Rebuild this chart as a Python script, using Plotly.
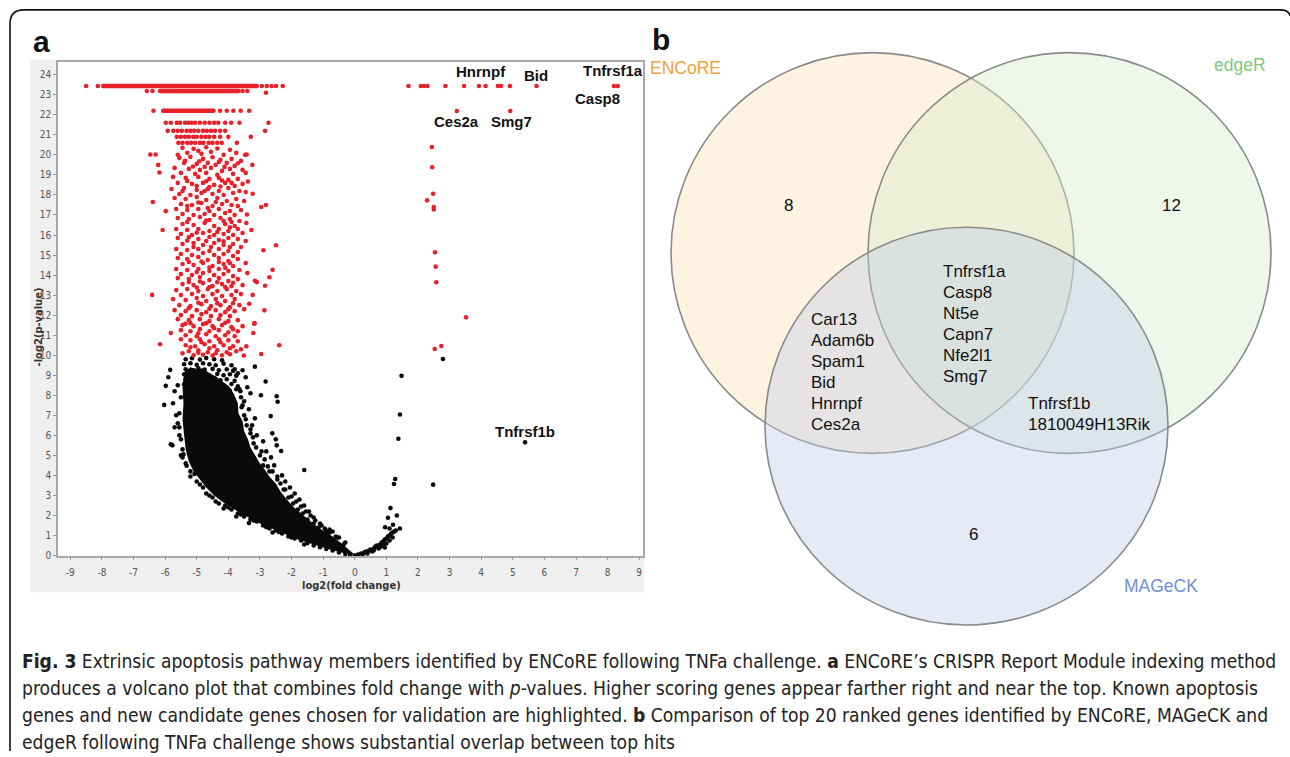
import plotly.graph_objects as go

W, H = 1290, 757

# ---------------- data: volcano plot (panel a) ----------------
x_ticks = list(range(-9, 10))
y_ticks = list(range(0, 25))

# dense rows of significant guides drawn as continuous runs (y, x_start, x_end)
red_run_y = [23.44, 23.19, 22.2]
red_run_x0 = [-7.96, -6.16, -6.06]
red_run_x1 = [-3.10, -3.68, -4.47]

red_points = [
    (-8.5, 23.44), (-8.13, 23.44), (-2.94, 23.44), (-2.78, 23.44), (-2.63, 23.44), (-2.49, 23.44), (-2.28, 23.44),
    (1.70, 23.44), (2.09, 23.44), (2.19, 23.44), (2.30, 23.44), (2.87, 23.44), (3.46, 23.44), (3.93, 23.44),
    (4.14, 23.44), (4.53, 23.44), (4.63, 23.44), (4.91, 23.44), (5.75, 23.44), (8.20, 23.44), (8.32, 23.44),
    (-6.58, 23.19), (-6.40, 23.19), (-3.55, 23.19), (-3.40, 23.19), (-2.81, 23.1),
    (-6.37, 22.2), (-4.26, 22.2), (-4.05, 22.2), (-3.84, 22.2), (-3.61, 22.2), (-3.34, 22.2), (3.23, 22.19), (4.92, 22.19),
    (-5.98, 21.6), (-5.82, 21.6), (-5.63, 21.6), (-5.53, 21.6), (-5.37, 21.6), (-5.26, 21.6), (-5.16, 21.6),
    (-5.05, 21.6), (-4.9, 21.6), (-4.75, 21.6), (-4.6, 21.6), (-4.45, 21.6), (-4.32, 21.6), (-4.1, 21.6),
    (-3.91, 21.6), (-3.65, 21.6), (-2.73, 21.6),
    (-5.92, 21.2), (-5.74, 21.2), (-5.6, 21.2), (-5.47, 21.2), (-5.32, 21.2), (-5.2, 21.2), (-5.08, 21.2),
    (-4.95, 21.2), (-4.8, 21.2), (-4.68, 21.2), (-4.55, 21.2), (-4.42, 21.2), (-4.26, 21.2), (-4.1, 21.2), (-2.84, 21.2),
    (-5.63, 20.9), (-5.5, 20.9), (-5.37, 20.9), (-5.25, 20.9), (-5.11, 20.9), (-5.0, 20.9), (-4.85, 20.9),
    (-4.72, 20.9), (-4.6, 20.9), (-4.45, 20.9), (-4.26, 20.9), (-4.0, 20.9), (-3.29, 20.9),
    (-5.58, 20.6), (-5.45, 20.6), (-5.3, 20.6), (-5.18, 20.6), (-5.05, 20.6), (-4.9, 20.6), (-4.79, 20.6),
    (-4.62, 20.6), (-4.5, 20.6), (-4.35, 20.6), (-4.21, 20.6), (-3.73, 20.6),
    (-5.45, 20.35), (-5.1, 20.3), (-4.7, 20.38), (-4.35, 20.32), (-3.95, 20.25), (-5.3, 20.1), (-4.85, 20.05),
    (-4.55, 20.15), (-4.15, 20.0), (-3.75, 20.1), (-3.47, 20.0), (-3.42, 20.02), (-6.47, 20.02), (-6.3, 20.02),
    (-5.6, 20.0), (-4.95, 20.2),
    (-5.55, 19.85), (-5.2, 19.9), (-4.8, 19.8), (-4.5, 19.88), (-4.25, 19.75), (-3.9, 19.8), (-3.6, 19.7),
    (-5.4, 19.6), (-5.0, 19.55), (-4.65, 19.6), (-4.4, 19.5), (-4.05, 19.6), (-3.8, 19.45), (-6.22, 19.5),
    (-3.24, 19.5), (-5.7, 19.35), (-5.25, 19.3), (-4.9, 19.25), (-4.55, 19.35), (-4.2, 19.2), (-3.95, 19.3),
    (-3.55, 19.25), (-6.18, 19.12), (-5.5, 19.1), (-5.05, 19.05), (-4.7, 19.1), (-4.35, 19.0), (-3.85, 19.05),
    (-5.75, 18.9), (-5.35, 18.85), (-4.95, 18.9), (-4.6, 18.8), (-4.3, 18.85), (-4.0, 18.75), (-3.7, 18.8),
    (-3.38, 18.67), (-5.6, 18.6), (-5.15, 18.55), (-4.8, 18.6), (-4.45, 18.5), (-4.1, 18.6), (-3.8, 18.45),
    (-3.55, 18.55), (-5.8, 18.3), (-5.4, 18.35), (-5.0, 18.25), (-4.65, 18.3), (-4.3, 18.2), (-4.0, 18.35),
    (-3.65, 18.2), (-3.23, 18.06), (-5.55, 18.05), (-5.2, 18.0), (-4.85, 18.1), (-4.5, 18.05), (-4.15, 18.0),
    (-3.85, 18.1), (-3.45, 18.15),
    (-5.7, 17.85), (-5.35, 17.8), (-5.0, 17.9), (-4.7, 17.75), (-4.35, 17.85), (-4.05, 17.7), (-3.75, 17.8),
    (-3.5, 17.7), (-6.39, 17.65), (-5.5, 17.55), (-5.15, 17.5), (-4.85, 17.6), (-4.5, 17.45), (-4.2, 17.55),
    (-3.9, 17.5), (-2.96, 17.4), (-2.81, 17.5), (-5.98, 17.19), (-5.65, 17.3), (-5.3, 17.25), (-4.95, 17.3),
    (-4.6, 17.2), (-4.3, 17.3), (-3.95, 17.2), (-3.6, 17.25), (-3.41, 17.02), (-5.45, 17.05), (-5.1, 17.0),
    (-4.75, 17.05), (-4.45, 17.0), (-4.1, 17.1), (-3.8, 17.0),
    (-5.6, 16.85), (-5.25, 16.8), (-4.9, 16.9), (-4.6, 16.75), (-4.25, 16.85), (-3.95, 16.8), (-3.65, 16.7),
    (-3.43, 16.6), (-5.45, 16.55), (-5.1, 16.5), (-4.75, 16.6), (-4.45, 16.45), (-4.1, 16.55), (-3.8, 16.45),
    (-5.65, 16.3), (-6.08, 16.25), (-3.27, 16.25), (-5.3, 16.25), (-4.95, 16.3), (-4.6, 16.2), (-4.3, 16.3),
    (-4.0, 16.2), (-3.7, 16.3), (-5.5, 16.05), (-5.15, 16.0), (-4.8, 16.1), (-4.45, 16.0), (-4.15, 16.05),
    (-3.85, 16.0), (-3.55, 16.1),
    (-5.6, 15.85), (-5.25, 15.9), (-4.95, 15.8), (-4.6, 15.9), (-4.3, 15.75), (-4.0, 15.85), (-3.7, 15.8),
    (-3.45, 15.7), (-5.45, 15.55), (-5.1, 15.6), (-4.8, 15.5), (-4.45, 15.6), (-4.15, 15.5), (-3.85, 15.55),
    (-2.49, 15.49), (-3.6, 15.4), (-5.65, 15.3), (-5.3, 15.25), (-4.95, 15.3), (-4.6, 15.2), (-4.3, 15.3),
    (-4.0, 15.2), (-3.7, 15.15), (-2.89, 15.24), (-5.5, 15.05), (-5.15, 15.0), (-4.8, 15.1), (-4.45, 15.0),
    (-4.15, 15.05), (-3.85, 14.95),
    (-5.6, 14.85), (-5.3, 14.8), (-4.95, 14.9), (-4.65, 14.75), (-4.3, 14.85), (-4.0, 14.7), (-3.7, 14.8),
    (-3.45, 14.6), (-5.45, 14.55), (-5.1, 14.5), (-4.8, 14.6), (-4.5, 14.45), (-4.15, 14.55), (-3.85, 14.45),
    (-2.6, 14.26), (-5.65, 14.3), (-5.3, 14.25), (-4.95, 14.3), (-4.6, 14.2), (-4.3, 14.3), (-4.0, 14.2),
    (-3.65, 14.25), (-3.4, 14.1), (-5.5, 14.05), (-5.15, 14.0), (-4.8, 14.1), (-4.45, 14.0), (-4.15, 14.05),
    (-3.85, 13.95),
    (-2.7, 13.89), (-5.6, 13.85), (-5.25, 13.8), (-4.9, 13.9), (-4.6, 13.75), (-4.3, 13.85), (-4.0, 13.7),
    (-3.7, 13.8), (-3.16, 13.72), (-3.1, 13.65), (-5.45, 13.55), (-5.1, 13.5), (-4.8, 13.6), (-4.5, 13.45),
    (-4.2, 13.55), (-3.9, 13.45), (-3.55, 13.5), (-2.84, 13.47), (-5.65, 13.25), (-5.3, 13.3), (-4.95, 13.2),
    (-4.65, 13.3), (-4.35, 13.2), (-4.05, 13.3), (-3.75, 13.2), (-6.41, 13.01), (-3.23, 13.01), (-5.5, 13.0),
    (-5.15, 13.05), (-4.8, 12.95), (-4.5, 13.05), (-4.2, 12.95), (-3.9, 13.0), (-3.6, 13.05),
    (-5.75, 12.8), (-5.35, 12.75), (-5.0, 12.85), (-4.7, 12.7), (-4.4, 12.8), (-4.1, 12.7), (-3.8, 12.8),
    (-3.34, 12.57), (-5.55, 12.5), (-5.2, 12.45), (-4.85, 12.55), (-4.55, 12.45), (-4.25, 12.5), (-3.95, 12.4),
    (-3.65, 12.5), (-2.86, 12.24), (-5.7, 12.25), (-5.35, 12.2), (-5.0, 12.25), (-4.7, 12.15), (-4.4, 12.25),
    (-4.1, 12.15), (-3.8, 12.2), (-3.5, 12.3), (-5.5, 12.0), (-5.15, 11.95), (-4.85, 12.05), (-4.55, 11.95),
    (-4.25, 12.0), (-3.95, 11.95), (3.52, 11.89),
    (-5.36, 11.57), (-3.18, 11.57), (-3.17, 11.6), (-5.6, 11.8), (-5.25, 11.75), (-4.9, 11.8), (-4.6, 11.7),
    (-4.3, 11.8), (-4.0, 11.7), (-3.7, 11.75), (-5.45, 11.5), (-5.1, 11.45), (-4.8, 11.55), (-4.5, 11.45),
    (-4.2, 11.5), (-3.9, 11.4), (-3.55, 11.45), (-5.82, 11.11), (-3.21, 11.11), (-5.5, 11.25), (-5.2, 11.2),
    (-4.9, 11.3), (-4.6, 11.2), (-4.3, 11.25), (-4.0, 11.15), (-3.7, 11.2), (-5.35, 11.0), (-5.0, 10.95),
    (-4.7, 11.05), (-4.4, 10.95), (-4.1, 11.0), (-3.8, 10.95),
    (-6.16, 10.55), (-2.39, 10.5), (-3.43, 10.45), (-5.5, 10.8), (-5.2, 10.75), (-4.9, 10.8), (-4.6, 10.7),
    (-4.3, 10.8), (-4.0, 10.75), (-3.7, 10.7), (-5.35, 10.5), (-5.05, 10.45), (-4.75, 10.55), (-4.45, 10.45),
    (-4.15, 10.5), (-3.85, 10.45), (-5.25, 10.2), (-4.95, 10.25), (-4.65, 10.15), (-4.35, 10.25), (-4.05, 10.15),
    (-3.75, 10.2), (-2.96, 10.06), (-3.51, 9.98), (-5.1, 10.0), (-4.8, 10.02), (-4.5, 9.98), (-4.2, 10.0),
    (-3.95, 10.05),
    (-5.37, 19.7), (-4.92, 19.68), (-4.3, 19.65), (-3.7, 19.58), (-5.12, 19.42), (-4.75, 19.4), (-4.12, 19.4),
    (-3.45, 19.1), (-5.3, 18.7), (-4.7, 18.68), (-4.2, 18.72), (-3.9, 18.6), (-5.0, 18.45), (-4.6, 18.4),
    (-4.25, 18.42), (-5.45, 18.2), (-4.75, 18.2), (-4.4, 17.65), (-4.95, 17.62), (-5.3, 17.45), (-3.7, 17.45),
    (-4.65, 17.35), (-4.15, 16.7), (-4.7, 16.72), (-5.3, 16.65), (-3.9, 16.65), (-4.35, 16.15), (-5.0, 16.12),
    (-3.95, 16.38), (-4.7, 15.7), (-4.15, 15.68), (-5.3, 15.72), (-3.95, 15.4), (-4.55, 15.4), (-5.1, 15.4),
    (-4.3, 14.65), (-4.85, 14.68), (-3.95, 14.6), (-5.25, 14.65), (-4.6, 14.38), (-4.1, 14.36), (-5.0, 14.15),
    (-4.35, 13.65), (-4.9, 13.68), (-3.85, 13.62), (-5.25, 13.65), (-4.6, 13.4), (-4.1, 13.4), (-5.0, 13.38),
    (-4.35, 12.6), (-4.95, 12.62), (-3.85, 12.6), (-5.25, 12.35), (-4.6, 12.32), (-4.0, 12.3), (-4.7, 11.6),
    (-4.1, 11.62), (-5.2, 11.6), (-3.85, 11.3), (-4.45, 11.35), (-4.95, 11.1), (-4.25, 10.65), (-4.85, 10.65),
    (-3.95, 10.35), (-4.6, 10.35), (-5.2, 10.4), (-4.4, 10.1), (-3.6, 10.3), (-5.45, 10.1), (-4.95, 10.12),
    (2.44, 20.39), (2.45, 19.38), (2.48, 18.06), (2.29, 17.73), (2.50, 17.40), (2.50, 17.27), (2.54, 15.14),
    (2.56, 14.42), (2.58, 13.64), (2.53, 10.31), (2.74, 10.46),
]

# saturated (fully overlapping) core of the non-significant cloud, outline
black_core = [
    (-5.4, 9.15), (-5.2, 9.4), (-5.0, 9.3), (-4.8, 9.35), (-4.6, 9.1), (-4.4, 8.95), (-4.2, 8.7),
    (-3.98, 8.45), (-3.82, 8.05), (-3.7, 7.6),
    (-3.68, 7.1), (-3.55, 6.7), (-3.5, 6.2), (-3.38, 5.8), (-3.3, 5.4), (-3.15, 5.0), (-3.0, 4.6),
    (-2.85, 4.3), (-2.7, 3.95), (-2.5, 3.6), (-2.35, 3.2), (-2.15, 2.8), (-1.95, 2.45), (-1.7, 2.1),
    (-1.45, 1.75), (-1.2, 1.45), (-0.95, 1.2), (-0.7, 0.95), (-0.45, 0.65), (-0.2, 0.3), (0.0, 0.04),
    (-0.3, 0.1), (-0.6, 0.22), (-0.9, 0.35), (-1.2, 0.5), (-1.5, 0.65), (-1.8, 0.8), (-2.1, 1.0),
    (-2.4, 1.2), (-2.7, 1.4), (-3.0, 1.6), (-3.3, 1.85), (-3.6, 2.1), (-3.9, 2.4), (-4.2, 2.7),
    (-4.45, 3.0), (-4.7, 3.4), (-4.9, 3.8), (-5.1, 4.2), (-5.25, 4.7), (-5.35, 5.3), (-5.4, 6.0),
    (-5.45, 6.8), (-5.42, 7.6), (-5.45, 8.4),
]

black_points = [
    # upper, less saturated part of the cloud
    (-5.35, 9.8), (-5.15, 9.85), (-4.9, 9.78), (-4.7, 9.86), (-4.45, 9.8), (-4.2, 9.75),
    (-5.4, 9.55), (-5.2, 9.6), (-5.0, 9.52), (-4.8, 9.6), (-4.6, 9.55), (-4.4, 9.5), (-4.15, 9.58), (-3.9, 9.5),
    (-5.35, 9.3), (-5.1, 9.25), (-4.95, 9.35), (-4.75, 9.28), (-4.5, 9.32), (-4.3, 9.25), (-4.05, 9.3), (-3.85, 9.22),
    (-5.4, 9.05), (-5.2, 9.1), (-5.0, 9.02), (-4.8, 9.08), (-4.6, 9.0), (-4.35, 9.06), (-4.15, 9.0), (-3.95, 9.05),
    (-3.75, 8.98),
    (-5.35, 8.8), (-5.15, 8.75), (-4.9, 8.82), (-4.7, 8.78), (-4.5, 8.8), (-4.25, 8.75), (-4.05, 8.8), (-3.8, 8.72),
    (-5.4, 8.55), (-5.2, 8.6), (-5.0, 8.5), (-4.8, 8.58), (-4.6, 8.52), (-4.4, 8.6), (-4.15, 8.5), (-3.9, 8.56),
    (-3.7, 8.45), (-5.3, 8.3), (-5.1, 8.35), (-4.85, 8.28), (-4.65, 8.32), (-4.4, 8.25), (-4.2, 8.3),
    (-3.95, 8.22), (-3.75, 8.3),
    # scattered periphery
    (-5.84, 9.27), (-5.98, 8.47), (-6.03, 7.52), (-5.82, 5.55), (-5.77, 5.5), (-5.9, 8.9), (-5.7, 8.2),
    (-5.75, 7.6), (-5.65, 7.0), (-5.6, 6.6), (-5.55, 6.0), (-5.7, 6.4), (-5.45, 5.3), (-5.5, 5.0),
    (-5.35, 4.6), (-5.2, 4.2), (-5.07, 4.07), (-5.32, 4.48), (-5.5, 5.8), (-5.55, 7.1), (-5.6, 8.5),
    (-5.5, 7.9), (-5.55, 6.4), (-5.45, 4.9),
    (-3.8, 9.3), (-3.7, 9.1), (-3.55, 9.25), (-3.45, 8.9), (-3.16, 9.43), (-2.82, 8.69), (-2.97, 8.0),
    (-2.47, 7.95), (-2.44, 7.68), (-2.66, 6.96), (-3.16, 6.85), (-2.61, 6.1), (-2.5, 5.8), (-2.47, 5.5),
    (-2.33, 5.22), (-1.6, 4.27), (-3.4, 8.4), (-3.3, 8.1), (-3.5, 7.7), (-3.35, 7.3), (-3.25, 6.5),
    (-3.1, 6.0), (-2.9, 5.7), (-2.8, 5.2), (-2.65, 4.9), (-2.55, 4.5), (-2.3, 4.0), (-2.2, 3.7),
    (-2.05, 3.4), (-1.9, 3.1), (-1.75, 2.8), (-1.6, 2.5), (-1.45, 2.2), (-1.3, 1.9), (-1.1, 1.6),
    (-0.95, 1.35), (-0.7, 1.2), (-0.5, 0.9), (-0.3, 0.65), (-3.65, 8.3), (-3.6, 7.9), (-3.55, 7.5),
    (-3.45, 6.8), (-3.3, 6.1), (-3.2, 5.6), (-3.0, 5.0), (-2.9, 4.5), (-2.7, 4.2), (-2.45, 3.8),
    (-2.25, 3.3), (-2.1, 2.9), (-1.95, 2.6), (-1.8, 2.3), (-1.65, 2.1), (-1.5, 1.8), (-1.3, 1.6),
    (-1.15, 1.4), (-0.9, 1.2), (-0.8, 1.3), (-0.85, 1.05), (-0.6, 0.95),
    (-3.62, 8.2), (-3.58, 7.4), (-3.5, 7.0), (-3.42, 6.5), (-3.3, 6.3), (-3.22, 5.9), (-3.12, 5.4),
    (-2.95, 5.2), (-2.85, 4.8), (-2.75, 4.45), (-2.6, 4.2), (-2.45, 3.95), (-2.35, 3.6), (-2.2, 3.3),
    (-2.0, 2.95), (-1.85, 2.7), (-1.7, 2.45), (-1.55, 2.2), (-1.4, 2.0), (-1.25, 1.75), (-1.05, 1.5),
    (-0.8, 1.15), (-0.55, 0.9), (-0.35, 0.55),
    (-5.0, 3.7), (-4.8, 3.4), (-4.7, 3.1), (-4.5, 2.9), (-4.3, 2.6), (-4.1, 2.5), (-3.9, 2.3), (-3.7, 2.1),
    (-3.5, 1.95), (-3.3, 1.8), (-3.1, 1.7), (-2.9, 1.5), (-2.7, 1.35), (-2.5, 1.25), (-2.3, 1.1),
    (-2.1, 0.95), (-1.9, 0.85), (-1.7, 0.75), (-1.5, 0.62), (-1.3, 0.5), (-1.1, 0.42), (-0.9, 0.33),
    (-0.7, 0.25), (-0.5, 0.15), (-0.3, 0.08), (-0.15, 0.03), (0.0, 0.0), (-4.9, 3.55), (-4.6, 3.0),
    (-4.4, 2.7), (-4.0, 2.4), (-3.6, 2.05), (-3.2, 1.75), (-2.8, 1.42), (-2.4, 1.18), (-2.0, 0.9),
    (-4.15, 2.35), (-3.75, 1.95), (-3.35, 1.62), (-2.6, 1.15), (-1.6, 0.55), (-5.2, 3.95), (-5.42, 5.05),
    (0.1, 0.05), (0.2, 0.1), (0.3, 0.15), (0.35, 0.2), (0.45, 0.25), (0.5, 0.3), (0.6, 0.35), (0.65, 0.45),
    (0.7, 0.5), (0.8, 0.55), (0.85, 0.65), (0.9, 0.7), (0.95, 0.8), (1.0, 0.85), (1.05, 0.95), (1.1, 1.0),
    (1.15, 1.1), (1.2, 1.15), (1.25, 1.2), (1.3, 1.25), (0.4, 0.1), (0.55, 0.2), (0.75, 0.35), (0.9, 0.5),
    (1.0, 0.6), (0.95, 0.4), (0.25, 0.05), (0.6, 0.25), (0.8, 0.42), (1.1, 0.75), (1.2, 0.9),
    (1.48, 8.97), (1.43, 7.04), (1.38, 5.83), (1.28, 3.82), (1.24, 3.57), (2.48, 3.54), (1.13, 2.37),
    (1.33, 2.0), (1.05, 1.89), (1.21, 1.54), (0.96, 1.41), (1.10, 1.35), (1.43, 1.35), (2.79, 9.81),
    (5.39, 5.65),
]

label_text = ["Hnrnpf", "Bid", "Tnfrsf1a", "Casp8", "Ces2a", "Smg7", "Tnfrsf1b"]
label_x = [4.0, 5.74, 8.18, 7.69, 3.23, 4.97, 5.39]
label_y = [24.17, 23.97, 24.2, 22.8, 21.67, 21.67, 6.18]

# ---------------- data: Venn diagram (panel b) ----------------
venn_sets = ["ENCoRE", "edgeR", "MAGeCK"]
venn_only_counts = [8, 12, 6]
genes_all_three = ["Tnfrsf1a", "Casp8", "Nt5e", "Capn7", "Nfe2l1", "Smg7"]
genes_encore_mageck = ["Car13", "Adam6b", "Spam1", "Bid", "Hnrnpf", "Ces2a"]
genes_edger_mageck = ["Tnfrsf1b", "1810049H13Rik"]

caption_lines = [
    "<b>Fig. 3</b> Extrinsic apoptosis pathway members identified by ENCoRE following TNFa challenge. "
    "<b>a</b> ENCoRE’s CRISPR Report Module indexing method",
    "produces a volcano plot that combines fold change with <i>p</i>-values. Higher scoring genes appear "
    "farther right and near the top. Known apoptosis",
    "genes and new candidate genes chosen for validation are highlighted. <b>b</b> Comparison of top 20 "
    "ranked genes identified by ENCoRE, MAGeCK and",
    "edgeR following TNFa challenge shows substantial overlap between top hits",
]

# ---------------- helpers ----------------
def PX(x):
    return x / W


def PY(y):
    return 1 - y / H


RED = "#e8202a"
BLACK = "#0a0a0a"
SANS = "Liberation Sans, Arial, sans-serif"
COND = "DejaVu Sans Condensed, sans-serif"

fig = go.Figure()

# saturated core of the grey-zone cloud
fig.add_trace(go.Scatter(
    x=[p[0] for p in black_core], y=[p[1] for p in black_core],
    mode="lines", fill="toself", fillcolor=BLACK, line=dict(width=0, color=BLACK),
    hoverinfo="skip", showlegend=False,
))
fig.add_trace(go.Scatter(
    x=[p[0] for p in black_points], y=[p[1] for p in black_points],
    mode="markers", marker=dict(color=BLACK, size=4.6, line=dict(width=0)),
    cliponaxis=False, showlegend=False,
))
for yv, a, b in zip(red_run_y, red_run_x0, red_run_x1):
    fig.add_trace(go.Scatter(
        x=[a, b], y=[yv, yv], mode="lines+markers",
        line=dict(color=RED, width=4.4), marker=dict(color=RED, size=4.6),
        showlegend=False, hoverinfo="skip",
    ))
fig.add_trace(go.Scatter(
    x=[p[0] for p in red_points], y=[p[1] for p in red_points],
    mode="markers", marker=dict(color=RED, size=4.6, line=dict(width=0)),
    showlegend=False,
))

x_lo, x_hi = -9.39, 9.12
y_lo, y_hi = 0.0, 24.66

fig.update_xaxes(
    domain=[PX(58), PX(643)], range=[x_lo, x_hi],
    tickvals=x_ticks, ticktext=[str(v) for v in x_ticks],
    showgrid=False, zeroline=False, showline=True, mirror=True,
    linecolor="#a8a8a8", linewidth=1.5, ticks="outside", ticklen=3, tickcolor="#999",
    ticklabelstandoff=4,
    tickfont=dict(family=COND, size=10, color="#555"),
)
fig.update_yaxes(
    domain=[PY(560), PY(62)], range=[y_lo, y_hi],
    tickvals=y_ticks, ticktext=[str(v) for v in y_ticks],
    showgrid=False, zeroline=False, showline=True, mirror=True,
    linecolor="#a8a8a8", linewidth=1.5, ticks="outside", ticklen=3, tickcolor="#999",
    tickfont=dict(family=COND, size=10, color="#555"),
)

shapes = []
# grey panel behind the volcano plot and white plotting area
shapes.append(dict(type="rect", xref="paper", yref="paper", x0=PX(30), x1=PX(644), y0=PY(597), y1=PY(60),
                   fillcolor="#efefef", line=dict(width=0), layer="below"))
shapes.append(dict(type="rect", xref="paper", yref="paper", x0=PX(58), x1=PX(643), y0=PY(560), y1=PY(62),
                   fillcolor="#ffffff", line=dict(width=0), layer="below"))

# outer frame (left + top with rounded corners)
frame = (f"M {PX(10)},{PY(757)} L {PX(10)},{PY(24)} Q {PX(10)},{PY(10)} {PX(24)},{PY(10)} "
         f"L {PX(1280)},{PY(10)} Q {PX(1289)},{PY(10)} {PX(1290)},{PY(16)}")
shapes.append(dict(type="path", xref="paper", yref="paper", path=frame,
                   line=dict(color="#111", width=1.6)))

# Venn circles
venn_fill = ["rgba(250,225,178,0.4)", "rgba(212,235,202,0.4)", "rgba(192,202,232,0.4)"]
venn_box = [(671, 1074, 53, 457), (868, 1271, 53, 457), (765, 1168, 229, 630)]
for (x0, x1, y0, y1), fc in zip(venn_box, venn_fill):
    shapes.append(dict(type="circle", xref="paper", yref="paper",
                       x0=PX(x0), x1=PX(x1), y0=PY(y1), y1=PY(y0),
                       fillcolor=fc, line=dict(color="#8a8a8a", width=1.6)))

ann = []
# volcano labels
for t, xv, yv in zip(label_text, label_x, label_y):
    ann.append(dict(x=xv, y=yv, xref="x", yref="y", text=f"<b>{t}</b>", showarrow=False,
                    font=dict(family=SANS, size=15, color="#111"), xanchor="center", yanchor="middle"))

# axis titles
ann.append(dict(x=PX(351), y=PY(590), xref="paper", yref="paper", text="<b>log2(fold change)</b>",
                showarrow=False, font=dict(family=COND, size=11, color="#333"),
                xanchor="center", yanchor="middle"))
ann.append(dict(x=PX(38), y=PY(330), xref="paper", yref="paper", text="<b>-log2(p-value)</b>",
                showarrow=False, textangle=-90, font=dict(family=COND, size=11, color="#333"),
                xanchor="center", yanchor="middle"))

# panel letters
ann.append(dict(x=PX(31), y=PY(42), xref="paper", yref="paper", text="<b>a</b>", showarrow=False,
                font=dict(family=SANS, size=30, color="#111"), xanchor="left", yanchor="middle"))
ann.append(dict(x=PX(650), y=PY(40), xref="paper", yref="paper", text="<b>b</b>", showarrow=False,
                font=dict(family=SANS, size=30, color="#111"), xanchor="left", yanchor="middle"))

# Venn set names
set_cols = ["#eea23a", "#7fc77f", "#6f8ed6"]
set_pos = [(648, 69, "left"), (1268, 66, "right"), (1200, 591, "right")]
for name, col, (x, y, xa) in zip(venn_sets, set_cols, set_pos):
    ann.append(dict(x=PX(x), y=PY(y), xref="paper", yref="paper", text=name, showarrow=False,
                    font=dict(family=SANS, size=17.5, color=col), xanchor=xa, yanchor="middle"))

# Venn counts
count_pos = [(788, 207), (1171, 207), (973, 539)]
for c, (x, y) in zip(venn_only_counts, count_pos):
    ann.append(dict(x=PX(x), y=PY(y), xref="paper", yref="paper", text=str(c), showarrow=False,
                    font=dict(family=SANS, size=17, color="#111"), xanchor="center", yanchor="middle"))


# gene lists in the overlaps
def gene_block(genes, x, y_first):
    for i, g in enumerate(genes):
        ann.append(dict(x=PX(x), y=PY(y_first + i * 21.2), xref="paper", yref="paper", text=g,
                        showarrow=False, font=dict(family=SANS, size=17, color="#111"),
                        xanchor="left", yanchor="middle"))


gene_block(genes_all_three, 941, 274)
gene_block(genes_encore_mageck, 809, 322)
gene_block(genes_edger_mageck, 1026, 407)

# caption
cap_y = [667, 694.5, 721.5, 748]
for line, y in zip(caption_lines, cap_y):
    ann.append(dict(x=PX(20), y=PY(y), xref="paper", yref="paper", text=line, showarrow=False,
                    font=dict(family=COND, size=19.1, color="#222"), xanchor="left", yanchor="middle"))

fig.update_layout(
    width=W, height=H, autosize=False,
    margin=dict(l=0, r=0, t=0, b=0),
    paper_bgcolor="white", plot_bgcolor="white",
    shapes=shapes, annotations=ann, showlegend=False,
)

fig.write_html(
    "out.html",
    config={"displayModeBar": False},
    post_script="document.body.style.margin='0';document.documentElement.style.margin='0';"
                "document.body.style.overflow='hidden';",
)
